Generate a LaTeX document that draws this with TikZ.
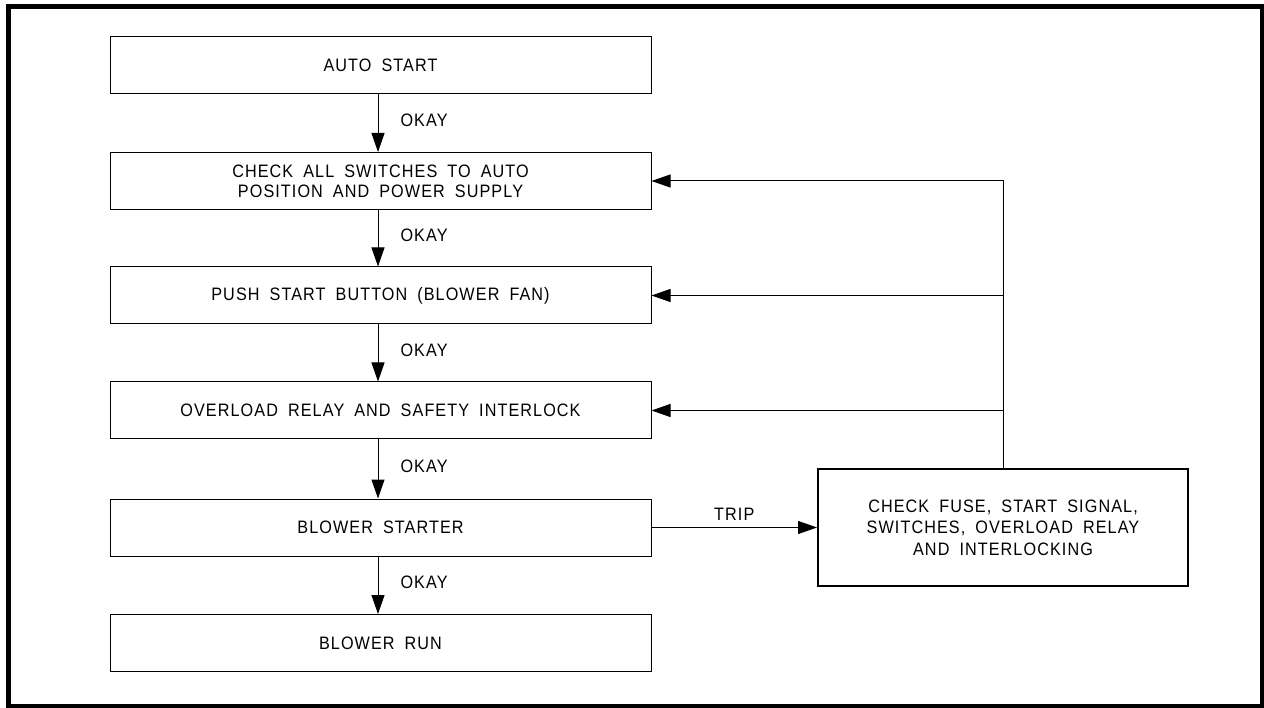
\documentclass[tikz,border=0pt]{standalone}
\usepackage{fontspec}
\setmainfont{Liberation Sans}[FakeStretch=0.9,LetterSpace=6,WordSpace=1.8]
\usetikzlibrary{arrows.meta}
\tikzset{
  stage/.style={draw,line width=1pt,minimum width=541pt,minimum height=57pt,
    inner sep=0pt,align=center},
  remedy/.style={draw,line width=2pt,minimum width=370pt,minimum height=117pt,
    inner sep=0pt,align=center},
  flow/.style={line width=1pt,-{Triangle[length=19pt,width=13pt]}},
  lbl/.style={inner sep=0pt}
}
\begin{document}
\begin{tikzpicture}[x=1pt,y=-1pt,font=\fontsize{18}{20}\selectfont]
      \useasboundingbox (0,0) rectangle (1264,708);
      \draw[line width=5pt] (8.5,6.5) rectangle (1262,706.5);
      \node[stage] (auto) at (380.5,65.5) {AUTO START};
      \node[stage] (check) at (380.5,181) {CHECK ALL SWITCHES TO AUTO\\POSITION AND POWER SUPPLY};
      \node[stage] (push) at (380.5,295.5) {PUSH START BUTTON (BLOWER FAN)};
      \node[stage] (overload) at (380.5,410.5) {OVERLOAD RELAY AND SAFETY INTERLOCK};
      \node[stage] (starter) at (380.5,527.5) {BLOWER STARTER};
      \node[stage] (run) at (380.5,643) {BLOWER RUN};
      \node[remedy] (fuse) at (1003,527.5) {CHECK FUSE, START SIGNAL,\\[1.5pt]SWITCHES, OVERLOAD RELAY\\[1.5pt]AND INTERLOCKING};
      \begin{scope}[flow]
        \draw (auto.south -| 378,0) to node[lbl,right=22pt,yshift=3pt]{OKAY} (check.north -| 378,0);
        \draw (check.south -| 378,0) to node[lbl,right=22pt,yshift=3pt]{OKAY} (push.north -| 378,0);
        \draw (push.south -| 378,0) to node[lbl,right=22pt,yshift=3pt]{OKAY} (overload.north -| 378,0);
        \draw (overload.south -| 378,0) to node[lbl,right=22pt,yshift=3pt]{OKAY} (starter.north -| 378,0);
        \draw (starter.south -| 378,0) to node[lbl,right=22pt,yshift=3pt]{OKAY} (run.north -| 378,0);
        \draw (starter.east) to node[lbl,above=7pt]{TRIP} (fuse.west);
        \draw (fuse.north) -- (fuse.north |- check.east) -- (check.east);
        \draw (fuse.north |- push.east) -- (push.east);
        \draw (fuse.north |- overload.east) -- (overload.east);
      \end{scope}
    \end{tikzpicture}
\end{document}
